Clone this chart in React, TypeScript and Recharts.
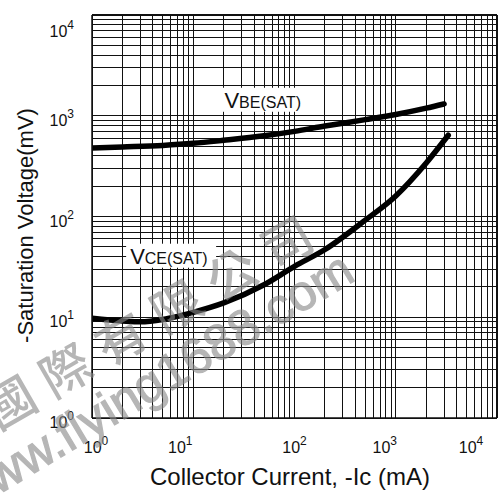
import React from 'react';
import { LineChart, Line, XAxis, YAxis, ReferenceLine, ReferenceDot } from 'recharts';

// Log-log saturation voltage curves
const vbeCurrent = [1, 2, 5, 10, 20, 50, 100, 200, 500, 1000, 2000, 3000];
const vbeVoltage = [478, 490, 508, 532, 570, 632, 700, 790, 915, 1030, 1190, 1310];

const vceCurrent = [1, 2, 3, 5, 7, 10, 20, 50, 100, 200, 500, 1000, 2000, 3300];
const vceVoltage = [9.8, 9.2, 9.0, 9.5, 10.2, 11.2, 13.9, 21, 32, 47, 92, 160, 340, 640];

const decadeTicks = [1, 10, 100, 1000, 10000];
const mantissas = [1, 2, 3, 4, 5, 6, 7, 8, 9];

const vbeData = vbeCurrent.map((ic, i) => ({ ic, mv: vbeVoltage[i] }));
const vceData = vceCurrent.map((ic, i) => ({ ic, mv: vceVoltage[i] }));
const gridValues = decadeTicks.slice(0, -1).flatMap(d => mantissas.map(m => d * m)).concat([10000]);

const FONT = '"Liberation Sans", Arial, sans-serif';
const INK = '#111';

const expOf = (v: number) => Math.round(Math.log10(v));

const YTick = ({ x, y, payload }: any) => {
  const e = expOf(payload.value);
  const dy = e === 4 ? 22 : 10;
  return (
    <text x={x} y={y + dy} textAnchor="end" fontFamily={FONT} fill={INK}>
      <tspan fontSize={16}>10</tspan>
      <tspan fontSize={12} dy={-8}>{e}</tspan>
    </text>
  );
};

// the original labels sit a bit left of their grid line, except 10^0 and 10^2
const xShift = [4, -13, 0, -11, -11];

const XTick = ({ x, y, payload }: any) => {
  const e = expOf(payload.value);
  return (
    <text x={x + xShift[e]} y={y} textAnchor="middle" fontFamily={FONT} fill={INK}>
      <tspan fontSize={16}>10</tspan>
      <tspan fontSize={12} dy={-8}>{e}</tspan>
    </text>
  );
};

const curveLabel = (main: string, sub: string) => (props: any) => {
  const { cx, cy } = props;
  return (
    <g>
      <rect x={cx - 4} y={cy - 20} width={90} height={24} fill="#fff" />
      <text x={cx} y={cy} fontFamily={FONT} fill={INK}>
        <tspan fontSize={22}>{main}</tspan>
        <tspan fontSize={16}>{sub}</tspan>
      </text>
    </g>
  );
};

export default function App() {
  return (
    <div style={{ position: 'absolute', left: 0, top: 0, width: 502, height: 495, background: '#fff' }}>
      <LineChart width={502} height={495} margin={{ top: 15, right: 5, bottom: 0, left: 0 }}>
        <XAxis
          dataKey="ic"
          type="number"
          scale="log"
          domain={[1, 10000]}
          ticks={decadeTicks}
          allowDataOverflow
          height={77}
          tickSize={0}
          tickMargin={35}
          tick={<XTick />}
          axisLine={{ stroke: INK, strokeWidth: 1.5 }}
          label={{
            content: ({ viewBox }: any) => (
              <text x={viewBox.x + 198} y={viewBox.y + 67} textAnchor="middle" fontFamily={FONT} fontSize={24} fill={INK}>
                Collector Current, -Ic (mA)
              </text>
            ),
          }}
        />
        <YAxis
          dataKey="mv"
          type="number"
          scale="log"
          domain={[1, 10000]}
          ticks={decadeTicks}
          allowDataOverflow
          width={92}
          tickSize={0}
          tickMargin={18}
          tick={<YTick />}
          axisLine={{ stroke: INK, strokeWidth: 1.5 }}
          label={{
            content: ({ viewBox }: any) => {
              const cx = viewBox.x + 33;
              const cy = viewBox.y + viewBox.height / 2 + 9;
              return (
                <text x={cx} y={cy} transform={`rotate(-90 ${cx} ${cy})`} textAnchor="middle" fontFamily={FONT} fontSize={22} fill={INK}>
                  -Saturation Voltage(mV)
                </text>
              );
            },
          }}
        />
        {gridValues.map(v => (
          <ReferenceLine key={'gx' + v} x={v} stroke={INK} strokeWidth={v === 10000 ? 1.5 : 1} shapeRendering="crispEdges" />
        ))}
        {gridValues.map(v => (
          <ReferenceLine key={'gy' + v} y={v} stroke={INK} strokeWidth={v === 10000 ? 1.5 : 1} shapeRendering="crispEdges" />
        ))}
        <ReferenceDot x={20.3} y={1200} r={0} shape={curveLabel('V', 'BE(SAT)')} />
        <ReferenceDot x={2.38} y={34} r={0} shape={curveLabel('V', 'CE(SAT)')} />
        <Line data={vbeData} dataKey="mv" type="monotone" stroke="#000" strokeWidth={5.5} strokeLinecap="round" dot={false} isAnimationActive={false} />
        <Line data={vceData} dataKey="mv" type="monotone" stroke="#000" strokeWidth={5.5} strokeLinecap="round" dot={false} isAnimationActive={false} />
      </LineChart>
      {/* watermark of the source site, drawn over the chart as in the scan */}
      <svg width={502} height={495} style={{ position: 'absolute', left: 0, top: 0, pointerEvents: 'none' }}>
        <text
          x={153} y={316} transform="rotate(-30 153 316)" textAnchor="middle" dominantBaseline="central"
          fontFamily='"Noto Sans CJK TC", sans-serif' fontSize={50} fontWeight={500} letterSpacing={14} fill="#8a8a8a" opacity={0.62}
        >
          國際有限公司
        </text>
        <text
          x={153} y={382} transform="rotate(-31 153 382)" textAnchor="middle" dominantBaseline="central"
          fontFamily={FONT} fontSize={50} fill="#8a8a8a" opacity={0.62} stroke="#8a8a8a" strokeWidth={1.2}
        >
          www.flying1688.com
        </text>
      </svg>
    </div>
  );
}
